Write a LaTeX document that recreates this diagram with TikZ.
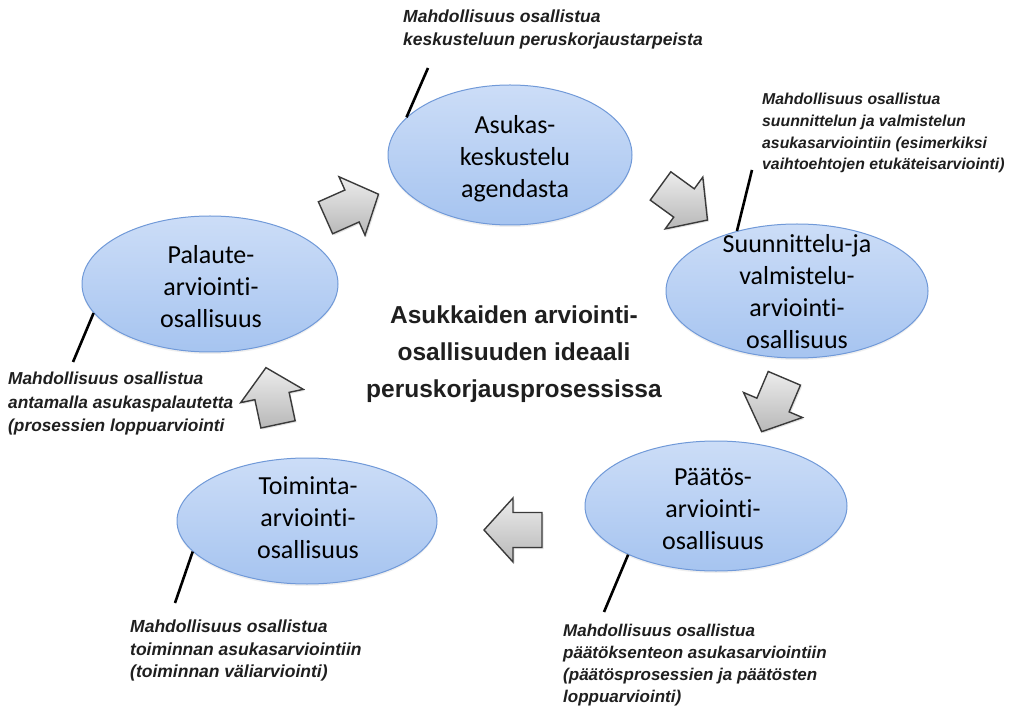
\documentclass[tikz,border=0pt]{standalone}
\usepackage{fontspec}
\setmainfont{Liberation Sans}
\newfontfamily\ovalfont[Ligatures=NoCommon]{Carlito}
\usetikzlibrary{shapes.geometric,shadows}
\definecolor{ovalTop}{RGB}{204,221,247}
\definecolor{ovalBot}{RGB}{166,196,240}
\definecolor{ovalEdge}{RGB}{112,153,216}
\definecolor{arrTop}{RGB}{236,236,236}
\definecolor{arrBot}{RGB}{184,184,184}
\definecolor{arrEdge}{RGB}{58,58,58}
\begin{document}
\begin{tikzpicture}[x=1pt,y=-1pt,
  oval/.style={ellipse, draw=ovalEdge, line width=1pt, top color=ovalTop,
    bottom color=ovalBot, inner sep=0pt,
    drop shadow={opacity=0.12, shadow xshift=0pt, shadow yshift=-2pt}},
  ovaltext/.style={align=center, inner sep=0pt,
    font=\ovalfont\fontsize{26}{32}\selectfont, text=black},
  note/.style={anchor=north west, align=left, inner sep=0pt,
    font=\bfseries\itshape\fontsize{17.5}{22.3}\selectfont, text=black!88},
  title/.style={align=center, inner sep=0pt,
    font=\bfseries\fontsize{24.5}{37}\selectfont, text=black!88},
  leader/.style={line width=2.6pt, black},
  pics/blockarrow/.style={code={
    \draw[line width=1.4pt, draw=arrEdge, top color=arrTop, bottom color=arrBot,
      line join=miter,
      drop shadow={opacity=0.22, shadow xshift=1.5pt, shadow yshift=-1.5pt}]
      (-29,-17.5) -- (0,-17.5) -- (0,-32) -- (29,0) -- (0,32) -- (0,17.5)
      -- (-29,17.5) -- cycle;}}
]
\useasboundingbox (0,0) rectangle (1009,708);
\fill[white] (0,0) rectangle (1009,708);

% the five phases
\node[oval, minimum width=244pt, minimum height=140pt] (ask) at (510,155) {};
\node[oval, minimum width=262pt, minimum height=134pt] (suu) at (797,291) {};
\node[oval, minimum width=262pt, minimum height=130pt] (paa) at (716,506) {};
\node[oval, minimum width=260pt, minimum height=126pt] (toi) at (307,521) {};
\node[oval, minimum width=256pt, minimum height=136pt] (pal) at (210,284) {};

\node[ovaltext] (askT) at (515,159) {Asukas-\\keskustelu\\agendasta};
\node[ovaltext] (suuT) at (797,292) {Suunnittelu-ja\\valmistelu-\\arviointi-\\osallisuus};
\node[ovaltext] (paaT) at (713,509) {Päätös-\\arviointi-\\osallisuus};
\node[ovaltext] (toiT) at (308,518) {Toiminta-\\arviointi-\\osallisuus};
\node[ovaltext] (palT) at (211,287) {Palaute-\\arviointi-\\osallisuus};

% cycle arrows
\pic[rotate=24]   at (352,206) {blockarrow};
\pic[rotate=-36]  at (684,203) {blockarrow};
\pic[rotate=-113] at (773,405) {blockarrow};
\pic[rotate=180]  at (513,530) {blockarrow};
\pic[rotate=102]  at (272,396) {blockarrow};

% centre title
\node[title] (ttl) at (514,354) {Asukkaiden arviointi-\\osallisuuden ideaali\\peruskorjausprosessissa};

% leader lines
\coordinate (askEnd) at (428,68);
\coordinate (suuEnd) at (752,170);
\coordinate (paaEnd) at (604,612);
\coordinate (toiEnd) at (175,603);
\coordinate (palEnd) at (73,362);
\draw[leader] (ask.160) -- (askEnd);
\draw[leader] (suu.135) -- (suuEnd);
\draw[leader] (paa.209) -- (paaEnd);
\draw[leader] (toi.195) -- (toiEnd);
\draw[leader] (pal.194) -- (palEnd);

% notes
\node[note] (askN) at (403,10) {Mahdollisuus osallistua\\keskusteluun peruskorjaustarpeista};
\node[note, font=\bfseries\itshape\fontsize{15.8}{21.7}\selectfont] (suuN) at (762,93)
  {Mahdollisuus osallistua\\suunnittelun ja valmistelun\\asukasarviointiin (esimerkiksi\\vaihtoehtojen etukäteisarviointi)};
\node[note, font=\bfseries\itshape\fontsize{17.3}{23.5}\selectfont] (palN) at (8,372)
  {Mahdollisuus osallistua\\antamalla asukaspalautetta\\(prosessien loppuarviointi};
\node[note] (toiN) at (130,620) {Mahdollisuus osallistua\\toiminnan asukasarviointiin\\(toiminnan väliarviointi)};
\node[note, font=\bfseries\itshape\fontsize{17}{22}\selectfont] (paaN) at (563,624)
  {Mahdollisuus osallistua\\päätöksenteon asukasarviointiin\\(päätösprosessien ja päätösten\\loppuarviointi)};
\end{tikzpicture}
\end{document}
